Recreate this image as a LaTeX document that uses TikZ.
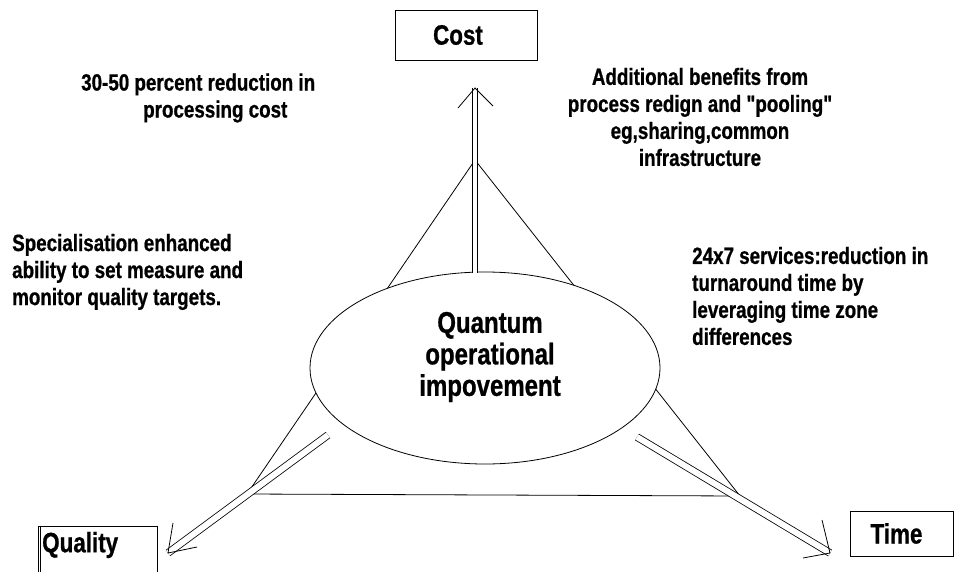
\documentclass[tikz,border=0pt]{standalone}
\usepackage{fontspec}
\newfontfamily\cf{Liberation Sans}[FakeStretch=0.8, FakeBold=0.8]
\usetikzlibrary{shapes.geometric}
\begin{document}
\begin{tikzpicture}[x=1pt,y=-1pt,
  thinline/.style={line width=0.8pt},
  dbl/.style={double, double distance=4.5pt, line width=0.8pt},
  dbltwo/.style={double, double distance=6pt, line width=0.8pt},
  boxnode/.style={draw, rectangle, line width=1pt, inner sep=0pt},
  txt/.style={font=\cf\bfseries\fontsize{23.5}{27}\selectfont, inner sep=0pt},
  lbl/.style={font=\cf\bfseries\fontsize{28}{30}\selectfont}
]
\useasboundingbox (0,0) rectangle (954,571);
% triangle
\coordinate (ta) at (475,160);
\coordinate (tl) at (247,494);
\coordinate (tr) at (740,496);
\draw[thinline] (ta) -- (tl) -- (tr) -- cycle;
% ellipse
\node[draw, ellipse, thinline, fill=white, minimum width=350pt, minimum height=192pt, inner sep=0pt] (q) at (485,368) {};
\node[font=\cf\bfseries\fontsize{30}{31.5}\selectfont, align=center, inner sep=0pt] (qt) at (490,357) {Quantum\\operational\\impovement};
% boxes
\node[boxnode, lbl, minimum width=142pt, minimum height=50pt] (cost) at (466,35) {Cost\hspace*{16pt}};
\node[boxnode, lbl, minimum width=103pt, minimum height=45pt] (time) at (901.5,533.5) {Time\hspace*{10pt}};
\node[boxnode, minimum width=119pt, minimum height=54pt] (qbox) at (97.5,553) {};
\draw[line width=1pt] ([xshift=3pt]qbox.north west) -- ([xshift=3pt]qbox.south west);
\node[lbl, anchor=west, inner sep=0pt] (qlab) at (42,545) {Quality};
% vertical arrow
\coordinate (cb) at (475,273);
\coordinate (ct) at (475,88);
\coordinate (ct1) at (458,108);
\coordinate (ct2) at (493,106);
\draw[dbl] (cb) -- (ct);
\draw[thinline] (ct1) -- (ct) -- (ct2);
% left arrow
\coordinate (lb) at (328,435);
\coordinate (lt) at (168,553);
\coordinate (lt1) at (173,523);
\coordinate (lt2) at (197,547);
\draw[dbltwo] (lb) -- (lt);
\draw[thinline] (lt1) -- (lt) -- (lt2);
% right arrow
\coordinate (rb) at (637,437);
\coordinate (rt) at (830,553);
\coordinate (rt1) at (822,520);
\coordinate (rt2) at (803,558);
\draw[dbltwo] (rb) -- (rt);
\draw[thinline] (rt1) -- (rt) -- (rt2);
% texts
\node[txt, align=left, anchor=west] (t1) at (81,98) {30-50 percent reduction in\\\hspace*{62pt}processing cost};
\node[txt, align=center] (t2) at (700,117) {Additional benefits from\\process redign and "pooling"\\eg,sharing,common\\infrastructure};
\node[txt, align=left, anchor=west] (t3) at (12,272) {Specialisation enhanced\\ability to set measure and\\monitor quality targets.};
\node[txt, align=left, anchor=west] (t4) at (692,296) {24x7 services:reduction in\\turnaround time by\\leveraging time zone\\differences};
\end{tikzpicture}
\end{document}
